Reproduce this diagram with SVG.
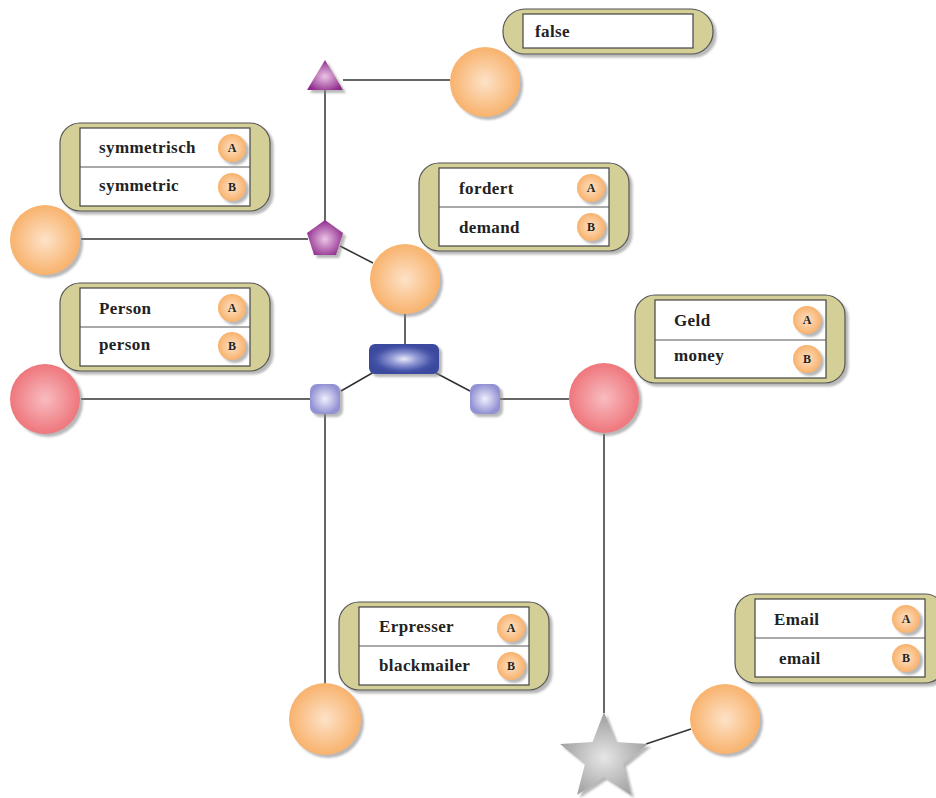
<svg xmlns="http://www.w3.org/2000/svg" width="936" height="798" viewBox="0 0 936 798">
<defs>
  <filter id="sh" x="-30%" y="-30%" width="160%" height="160%">
    <feDropShadow dx="3" dy="3" stdDeviation="1" flood-color="#888" flood-opacity="0.6"/>
  </filter>
  <radialGradient id="gOrange" cx="50%" cy="50%" r="50%">
    <stop offset="0" stop-color="#fde2c8"/>
    <stop offset="1" stop-color="#f8b26c"/>
  </radialGradient>
  <radialGradient id="gRed" cx="50%" cy="50%" r="50%">
    <stop offset="0" stop-color="#f8bcc0"/>
    <stop offset="1" stop-color="#ee767c"/>
  </radialGradient>
  <radialGradient id="gBlue" cx="50%" cy="50%" r="50%">
    <stop offset="0" stop-color="#eaeafa"/>
    <stop offset="0.4" stop-color="#8e96d2"/>
    <stop offset="0.8" stop-color="#4654a8"/>
    <stop offset="1" stop-color="#3a489e"/>
  </radialGradient>
  <radialGradient id="gLav" cx="50%" cy="50%" r="50%">
    <stop offset="0" stop-color="#f0f0fc"/>
    <stop offset="1" stop-color="#9292d4"/>
  </radialGradient>
  <radialGradient id="gPurple" cx="50%" cy="55%" r="55%">
    <stop offset="0" stop-color="#ecc4e6"/>
    <stop offset="1" stop-color="#8e2a8c"/>
  </radialGradient>
  <radialGradient id="gGray" cx="50%" cy="55%" r="55%">
    <stop offset="0" stop-color="#e6e6e6"/>
    <stop offset="1" stop-color="#9c9c9c"/>
  </radialGradient>
  <style>
    .edge { stroke: #333; stroke-width: 1.5; fill: none; }
    .outer { fill: #d3cf96; stroke: #555; stroke-width: 1.2; filter: url(#sh); }
    .inner { fill: #fff; stroke: #444; stroke-width: 1.2; }
    .div { stroke: #555; stroke-width: 1; }
    .lbl { font-family: "Liberation Serif", "DejaVu Serif", serif; font-weight: bold; font-size: 17px; letter-spacing: 0.4px; fill: #222; }
    .bdg { fill: url(#gOrange); filter: url(#sh); }
    .bt { font-family: "Liberation Serif", "DejaVu Serif", serif; font-weight: bold; font-size: 12px; fill: #222; text-anchor: middle; }
    .orange { fill: url(#gOrange); filter: url(#sh); }
    .red { fill: url(#gRed); filter: url(#sh); }
  </style>
</defs>

<g id="connectors">
  <line class="edge" x1="325" y1="80" x2="325" y2="222"/>
  <line class="edge" x1="343" y1="80" x2="450" y2="80"/>
  <line class="edge" x1="81" y1="239" x2="308" y2="239"/>
  <line class="edge" x1="340" y1="246" x2="373" y2="263"/>
  <line class="edge" x1="405" y1="314" x2="405" y2="344"/>
  <line class="edge" x1="374" y1="372" x2="341" y2="391"/>
  <line class="edge" x1="434" y1="372" x2="470" y2="391"/>
  <line class="edge" x1="81" y1="399" x2="310" y2="399"/>
  <line class="edge" x1="500" y1="399" x2="569" y2="399"/>
  <line class="edge" x1="325" y1="413" x2="325" y2="684"/>
  <line class="edge" x1="604" y1="434" x2="604" y2="713"/>
  <line class="edge" x1="646" y1="744" x2="691" y2="729"/>
</g>

<g id="n-triangle"><polygon points="325,60 343,90 307,90" fill="url(#gPurple)" filter="url(#sh)"/></g>
<g id="n-circle-top"><circle class="orange" cx="485" cy="82" r="35"/></g>
<g id="n-pentagon"><polygon points="325,220 343,233 336,255 314,255 307,233" fill="url(#gPurple)" filter="url(#sh)"/></g>
<g id="n-circle-left"><circle class="orange" cx="45" cy="240" r="35"/></g>
<g id="n-circle-mid"><circle class="orange" cx="405" cy="279" r="35"/></g>
<g id="n-rect"><rect x="369" y="344" width="70" height="30" rx="6" fill="url(#gBlue)" filter="url(#sh)"/></g>
<g id="n-sq-left"><rect x="310" y="384" width="30" height="30" rx="7" fill="url(#gLav)" filter="url(#sh)"/></g>
<g id="n-sq-right"><rect x="470" y="384" width="30" height="30" rx="7" fill="url(#gLav)" filter="url(#sh)"/></g>
<g id="n-red-left"><circle class="red" cx="45" cy="399" r="35"/></g>
<g id="n-red-right"><circle class="red" cx="604" cy="398" r="35"/></g>
<g id="n-circle-bottom"><circle class="orange" cx="325" cy="719" r="36"/></g>
<g id="n-star"><polygon points="604,712 615.5,742 648,744 623,764 631,795 604,777 577,795 585,764 560,744 592.5,742" fill="url(#gGray)" filter="url(#sh)"/></g>
<g id="n-circle-br"><circle class="orange" cx="725" cy="719" r="35"/></g>

<g id="l-false">
  <rect class="outer" x="503" y="9" width="210" height="45" rx="22"/>
  <rect class="inner" x="523" y="14" width="170" height="34"/>
  <text class="lbl" x="535" y="37">false</text>
</g>

<g id="l-symmetrisch">
  <rect class="outer" x="60" y="123" width="210" height="88" rx="20"/>
  <rect class="inner" x="80" y="128" width="170" height="78"/>
  <line class="div" x1="80" y1="167" x2="250" y2="167"/>
  <text class="lbl" x="99" y="153">symmetrisch</text>
  <text class="lbl" x="99" y="191">symmetric</text>
  <circle class="bdg" cx="232" cy="148" r="14"/><text class="bt" x="232" y="152">A</text>
  <circle class="bdg" cx="232" cy="187" r="14"/><text class="bt" x="232" y="191">B</text>
</g>

<g id="l-fordert">
  <rect class="outer" x="419" y="163" width="210" height="88" rx="20"/>
  <rect class="inner" x="439" y="168" width="170" height="78"/>
  <line class="div" x1="439" y1="207" x2="609" y2="207"/>
  <text class="lbl" x="459" y="194">fordert</text>
  <text class="lbl" x="459" y="233">demand</text>
  <circle class="bdg" cx="591" cy="188" r="14"/><text class="bt" x="591" y="192">A</text>
  <circle class="bdg" cx="591" cy="227" r="14"/><text class="bt" x="591" y="231">B</text>
</g>

<g id="l-person">
  <rect class="outer" x="60" y="283" width="210" height="88" rx="20"/>
  <rect class="inner" x="80" y="288" width="170" height="78"/>
  <line class="div" x1="80" y1="327" x2="250" y2="327"/>
  <text class="lbl" x="99" y="314">Person</text>
  <text class="lbl" x="99" y="350">person</text>
  <circle class="bdg" cx="232" cy="308" r="14"/><text class="bt" x="232" y="312">A</text>
  <circle class="bdg" cx="232" cy="346" r="14"/><text class="bt" x="232" y="350">B</text>
</g>

<g id="l-geld">
  <rect class="outer" x="635" y="295" width="210" height="88" rx="20"/>
  <rect class="inner" x="655" y="300" width="171" height="78"/>
  <line class="div" x1="655" y1="340" x2="826" y2="340"/>
  <text class="lbl" x="674" y="326">Geld</text>
  <text class="lbl" x="674" y="361">money</text>
  <circle class="bdg" cx="807" cy="320" r="14"/><text class="bt" x="807" y="324">A</text>
  <circle class="bdg" cx="807" cy="359" r="14"/><text class="bt" x="807" y="363">B</text>
</g>

<g id="l-erpresser">
  <rect class="outer" x="339" y="602" width="210" height="88" rx="20"/>
  <rect class="inner" x="359" y="607" width="170" height="78"/>
  <line class="div" x1="359" y1="646" x2="529" y2="646"/>
  <text class="lbl" x="379" y="632">Erpresser</text>
  <text class="lbl" x="379" y="671">blackmailer</text>
  <circle class="bdg" cx="511" cy="628" r="14"/><text class="bt" x="511" y="632">A</text>
  <circle class="bdg" cx="511" cy="666" r="14"/><text class="bt" x="511" y="670">B</text>
</g>

<g id="l-email">
  <rect class="outer" x="735" y="594" width="210" height="89" rx="20"/>
  <rect class="inner" x="755" y="599" width="170" height="78"/>
  <line class="div" x1="755" y1="638" x2="925" y2="638"/>
  <text class="lbl" x="774" y="625">Email</text>
  <text class="lbl" x="779" y="664">email</text>
  <circle class="bdg" cx="906" cy="619" r="14"/><text class="bt" x="906" y="623">A</text>
  <circle class="bdg" cx="906" cy="658" r="14"/><text class="bt" x="906" y="662">B</text>
</g>
</svg>
